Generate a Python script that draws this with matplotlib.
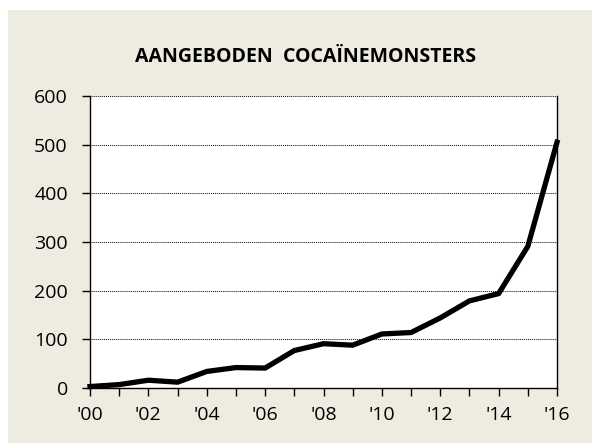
import matplotlib
matplotlib.use('Agg')
import matplotlib.pyplot as plt
from matplotlib.patches import Rectangle

years = list(range(2000, 2017))
samples = [3, 7, 16, 12, 34, 42, 41, 77, 91, 88, 111, 114, 144, 179, 194, 291, 505]
year_labels = ["'%02d" % (y % 100) if y % 2 == 0 else '' for y in years]
y_ticks = [0, 100, 200, 300, 400, 500, 600]

plt.rcParams['font.family'] = ['Open Sans', 'DejaVu Sans']

fig = plt.figure(figsize=(5.92, 4.43), dpi=100)
fig.patch.set_facecolor('white')
# beige chart area with a white margin top-left
fig.patches.append(Rectangle((8/592, 0), 1 - 8/592, 1 - 10/443, transform=fig.transFigure,
                             facecolor='#EEECE1', edgecolor='none', zorder=-1))

ax = fig.add_axes([90/592, 55/443, 467/592, 292/443])
ax.set_facecolor('white')
ax.plot(years, samples, color='black', linewidth=3.8, solid_joinstyle='miter', clip_on=False, zorder=3)

ax.set_xlim(2000, 2016)
ax.set_ylim(0, 600)
ax.set_yticks(y_ticks)
ax.set_xticks(years)
ax.set_xticklabels(year_labels)
ax.yaxis.grid(True, color='black', linestyle=(0, (1, 1)), linewidth=0.7)
ax.set_axisbelow(True)
ax.spines['top'].set_visible(False)
for s in ['left', 'right', 'bottom']:
    ax.spines[s].set_color('black')
    ax.spines[s].set_linewidth(1.0)
ax.tick_params(axis='both', direction='out', length=6, width=1, labelsize=14, colors='black')
ax.tick_params(axis='y', pad=10)
ax.tick_params(axis='x', pad=7)

fig.text(306/592, 1 - 57/443, 'AANGEBODEN  COCAÏNEMONSTERS', ha='center', va='center',
         fontsize=14, fontweight='bold')

fig.savefig('out.png', dpi=100, facecolor=fig.get_facecolor())
